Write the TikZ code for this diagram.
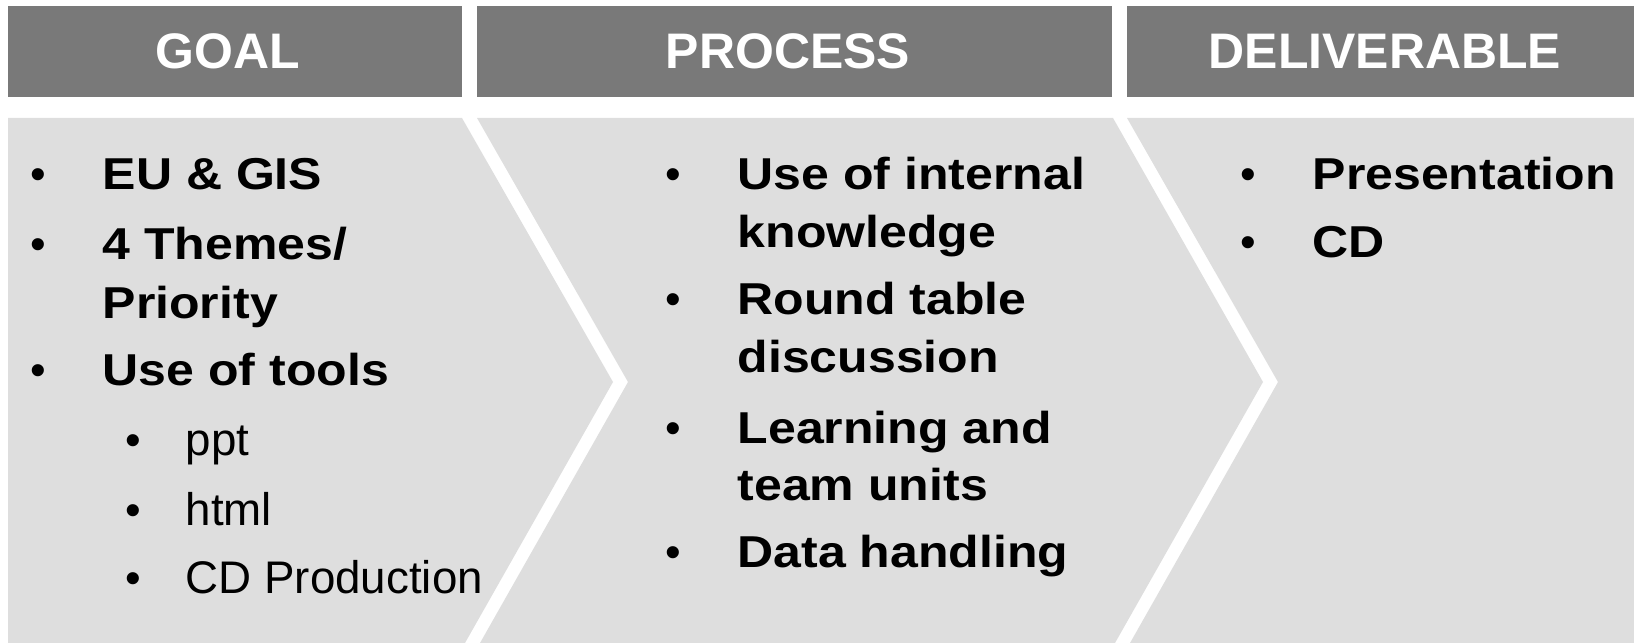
\documentclass[tikz,border=0pt]{standalone}
\usepackage{fontspec}
\setmainfont{Liberation Sans}
\newfontfamily\widefont{Liberation Sans}[FakeStretch=1.12]
\usetikzlibrary{positioning}
\definecolor{headgray}{RGB}{121,121,121}
\definecolor{bodygray}{RGB}{222,222,222}

\begin{document}
\begin{tikzpicture}[x=0.01cm,y=-0.01cm]

    \tikzstyle{head} = [fill=headgray, text=white, inner sep=0pt,
    minimum height=0.91cm, font=\fontsize{14.2}{17}\selectfont\bfseries]

    \tikzstyle{item} = [anchor=base west, inner sep=0pt,
    font=\widefont\fontsize{12.7}{15}\selectfont\bfseries]

    \tikzstyle{sub} = [anchor=base west, inner sep=0pt,
    font=\fontsize{13}{15}\selectfont]

    \tikzstyle{dot} = [anchor=base, inner sep=0pt,
    font=\fontsize{12.7}{15}\selectfont]

    \useasboundingbox (0,0) rectangle (1634,643);

    % chevrons
    \fill[bodygray] (8,118) -- (462,118) -- (613,382) -- (465,643) -- (8,643) -- cycle;
    \fill[bodygray] (477,118) -- (1113,118) -- (1263,382) -- (1115,643)
      -- (480,643) -- (628,382) -- cycle;
    \fill[bodygray] (1127,118) -- (1634,118) -- (1634,643) -- (1130,643)
      -- (1278,382) -- cycle;

    \draw
    (235,51.5) node [head, minimum width=4.54cm] (goal) {\hspace*{-0.15cm}GOAL}
    (794.5,51.5) node [head, minimum width=6.35cm] (process) {\hspace*{-0.13cm}PROCESS}
    (1380.5,51.5) node [head, minimum width=5.07cm] (deliv) {DELIVERABLE\hspace*{-0.09cm}}
    ;

    % goal column
    \draw
    (38,190) node [dot] (g1d) {\textbullet}
    (102,190) node [item] (g1) {EU \& GIS}
    (38,260) node [dot] (g2d) {\textbullet}
    (102,260) node [item] (g2) {4 Themes/}
    (102,318) node [item] (g2b) {Priority}
    (38,385) node [dot] (g3d) {\textbullet}
    (102,385) node [item] (g3) {Use of tools}
    (133,455) node [dot] (s1d) {\textbullet}
    (185,455) node [sub] (s1) {ppt}
    (133,525) node [dot] (s2d) {\textbullet}
    (185,525) node [sub] (s2) {html}
    (133,593) node [dot] (s3d) {\textbullet}
    (185,593) node [sub] (s3) {CD Production}
    ;

    % process column
    \draw
    (673,190) node [dot] (p1d) {\textbullet}
    (737,190) node [item] (p1) {Use of internal}
    (737,248) node [item] (p1b) {knowledge}
    (673,315) node [dot] (p2d) {\textbullet}
    (737,315) node [item] (p2) {Round table}
    (737,373) node [item] (p2b) {discussion}
    (673,443) node [dot] (p3d) {\textbullet}
    (737,443) node [item] (p3) {Learning and}
    (737,500) node [item] (p3b) {team units}
    (673,567) node [dot] (p4d) {\textbullet}
    (737,567) node [item] (p4) {Data handling}
    ;

    % deliverable column
    \draw
    (1248,190) node [dot] (d1d) {\textbullet}
    (1312,190) node [item] (d1) {Presentation}
    (1248,258) node [dot] (d2d) {\textbullet}
    (1312,258) node [item] (d2) {CD}
    ;
\end{tikzpicture}
\end{document}
